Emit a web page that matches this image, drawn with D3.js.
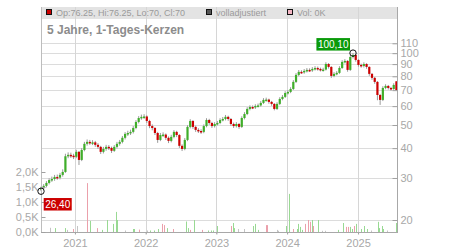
<!DOCTYPE html>
<html>
<head>
<meta charset="utf-8">
<script src="https://cdn.jsdelivr.net/npm/d3@7"></script>
<style>
body { margin: 0; background: #fff; }
text { font-family: "Liberation Sans", Arial, sans-serif; }
</style>
</head>
<body>
<script>
var width = 450, height = 250;
var plot = {left: 41, right: 397, top: 7, bottom: 232};

// two-week candles, first one starts on this day
var startDate = "2020-07-10";
var endDate = "2025-07-21";

var opens = [26.9,27.2,27.8,28.6,29.4,29.7,30.3,30.1,30.9,31.8,
  37.0,37.5,37.2,36.8,38.6,35.7,39.3,41.7,42.5,42.1,
  42.3,41.3,40.5,38.6,39.7,40.5,40.1,39.0,40.5,41.7,
  42.5,44.2,45.9,46.3,46.8,48.6,51.5,53.5,54.1,54.3,
  52.0,49.5,48.6,46.3,43.3,45.4,45.6,44.2,42.9,44.6,
  46.8,45.4,40.9,39.7,43.3,49.1,52.0,49.1,47.7,47.2,
  46.8,49.5,52.5,51.0,49.5,50.5,51.0,52.5,53.0,54.1,
  53.0,50.5,49.5,50.5,49.1,53.5,55.6,58.4,59.5,59.3,
  60.1,60.4,61.9,63.7,63.9,62.5,61.3,58.4,61.3,64.3,
  65.6,68.1,68.8,70.8,75.8,81.1,83.5,83.2,84.3,85.1,
  84.8,85.9,86.7,85.9,85.1,85.4,90.1,87.6,80.3,81.9,
  82.7,86.7,91.9,92.8,85.1,96.4,98.3,93.7,89.3,88.4,
  90.1,87.6,81.9,78.8,75.8,66.8,63.7,71.5,72.9,71.5,
  70.8,76.25];
var highs = [27.6,28.3,29.1,29.9,30.4,30.9,31.0,31.5,32.6,37.9,
  38.4,38.3,37.9,39.4,38.9,40.0,42.5,43.5,43.3,43.2,
  42.9,42.0,40.9,40.5,41.3,41.2,40.6,41.2,42.5,43.3,
  45.0,46.7,47.3,47.8,49.5,52.4,54.5,55.3,55.5,54.9,
  52.6,50.3,49.0,46.8,46.3,46.6,46.1,44.8,45.5,47.6,
  47.3,45.8,41.5,44.1,49.9,52.9,52.4,49.7,48.5,48.0,
  50.3,53.4,53.1,51.6,51.4,52.0,53.4,54.0,55.1,54.7,
  53.5,51.2,51.4,51.0,54.4,56.6,59.4,60.5,60.4,61.1,
  61.5,63.0,64.8,65.1,64.5,63.1,61.8,62.3,65.4,66.8,
  69.3,70.0,72.0,77.1,82.5,85.0,84.8,85.8,86.6,86.4,
  87.4,88.2,87.9,87.0,86.9,91.6,90.9,88.2,83.3,84.1,
  88.2,93.4,94.4,93.5,97.9,100.1,98.9,94.3,90.4,91.6,
  90.8,88.1,82.6,79.5,76.4,67.5,72.7,74.1,73.6,72.3,
  74.8,76.25];
var lows = [26.4,26.9,27.4,28.2,28.9,29.2,29.5,29.6,30.4,31.5,
  36.3,36.4,36.0,36.3,34.0,35.3,38.8,41.0,41.3,41.2,
  40.5,39.7,37.8,38.0,39.0,39.3,38.2,38.6,39.9,41.0,
  41.9,43.5,45.0,45.4,46.1,48.0,50.8,52.6,53.0,51.0,
  48.5,47.5,45.4,42.1,42.8,44.6,43.3,42.0,42.3,44.0,
  44.5,40.1,38.9,39.2,42.8,48.4,48.2,46.8,46.3,45.9,
  46.2,48.9,50.1,48.6,48.8,49.8,50.4,51.8,52.3,52.1,
  49.6,48.6,48.8,48.2,48.6,52.8,55.0,57.6,58.3,58.4,
  59.2,59.7,61.2,62.7,61.4,60.2,57.6,57.8,60.6,63.5,
  64.9,67.1,68.0,70.1,75.0,80.1,81.9,82.0,83.0,83.4,
  83.5,84.6,84.5,83.8,83.7,84.6,86.2,78.8,79.3,80.8,
  81.9,85.9,90.6,83.6,84.3,95.0,92.1,87.8,86.9,87.1,
  86.0,80.4,77.3,74.4,63.5,60.7,63.0,70.6,70.4,69.6,
  70.2,70.0];
var closes = [27.2,27.8,28.6,29.4,29.7,30.3,30.1,30.9,31.8,37.0,
  37.5,37.2,36.8,38.6,35.7,39.3,41.7,42.5,42.1,42.3,
  41.3,40.5,38.6,39.7,40.5,40.1,39.0,40.5,41.7,42.5,
  44.2,45.9,46.3,46.8,48.6,51.5,53.5,54.1,54.3,52.0,
  49.5,48.6,46.3,43.3,45.4,45.6,44.2,42.9,44.6,46.8,
  45.4,40.9,39.7,43.3,49.1,52.0,49.1,47.7,47.2,46.8,
  49.5,52.5,51.0,49.5,50.5,51.0,52.5,53.0,54.1,53.0,
  50.5,49.5,50.5,49.1,53.5,55.6,58.4,59.5,59.3,60.1,
  60.4,61.9,63.7,63.9,62.5,61.3,58.4,61.3,64.3,65.6,
  68.1,68.8,70.8,75.8,81.1,83.5,83.2,84.3,85.1,84.8,
  85.9,86.7,85.9,85.1,85.4,90.1,87.6,80.3,81.9,82.7,
  86.7,91.9,92.8,85.1,96.4,98.3,93.7,89.3,88.4,90.1,
  87.6,81.9,78.8,75.8,66.8,63.7,71.5,72.9,71.5,70.8,
  73.6,70.0];

// volume in thousands, u = up day, d = down day, n = unchanged
var volDates = ["2020-08-25","2020-09-20","2020-11-11","2020-11-21","2020-12-22","2021-01-12",
  "2021-03-04","2021-03-20","2021-04-25","2021-05-21","2021-06-16","2021-07-17","2021-08-01",
  "2021-08-06","2021-09-16","2021-10-28","2021-11-02","2021-11-28","2022-01-08","2022-01-23",
  "2022-02-13","2022-03-06","2022-03-26","2022-04-06","2022-04-21","2022-05-22","2022-07-28",
  "2022-08-08","2022-08-18","2022-09-07","2022-10-19","2022-11-19","2022-12-04","2022-12-15",
  "2023-01-04","2023-03-17","2023-03-28","2023-04-02","2023-04-23","2023-05-24","2023-07-09",
  "2023-07-19","2023-08-04","2023-09-14","2023-09-19","2023-11-10","2023-11-15","2023-12-26",
  "2024-01-11","2024-01-31","2024-02-21","2024-02-26","2024-03-07","2024-03-18","2024-04-02",
  "2024-04-18","2024-04-28","2024-05-08","2024-05-14","2024-06-08","2024-06-29","2024-07-14",
  "2024-09-18","2024-10-14","2024-10-30","2024-11-09","2024-11-19","2024-12-01","2024-12-11",
  "2024-12-21","2025-01-16","2025-02-01","2025-02-16","2025-03-09","2025-04-14","2025-04-19",
  "2025-05-05","2025-05-10","2025-05-30","2025-07-16"];
var volValues = [0.14,0.13,0.13,0.07,0.1,0.2,
  1.63,0.37,0.13,0.07,0.4,0.27,0.67,
  0.4,0.05,0.1,0.1,0.08,0.05,0.05,
  0.05,0.1,0.27,0.23,0.13,0.1,0.35,
  0.13,0.07,0.4,0.07,0.05,0.05,0.05,
  0.2,0.2,0.3,0.13,0.1,0.1,0.2,
  0.27,0.07,0.23,0.23,0.07,0.04,0.2,
  1.27,0.1,0.1,0.27,0.17,0.07,0.27,
  0.4,0.34,0.4,0.2,0.4,0.04,0.04,
  0.07,0.3,0.17,0.17,0.17,0.1,0.2,
  0.27,0.1,0.2,0.1,0.05,0.34,0.13,
  0.2,0.1,0.05,0.3];
var volDir = ["n","u","u","n","d","n",
  "d","u","d","u","u","u","u",
  "u","n","u","u","d","n","u",
  "u","u","d","d","u","d","u",
  "u","d","u","d","u","u","u",
  "u","d","u","u","n","n","u",
  "u","u","d","d","n","n","u",
  "u","d","u","u","u","u","d",
  "d","d","u","d","u","n","n",
  "u","u","d","d","u","u","d",
  "u","u","u","u","n","u","u",
  "u","u","n","u"];

var priceTicks = [20, 30, 40, 50, 60, 70, 80, 90, 100, 110];
var volTicks = [0, 0.5, 1, 1.5, 2];
var yearTicks = ["2021", "2022", "2023", "2024", "2025"];
var legendLabels = ["Op:76.25, Hi:76.25, Lo:70, Cl:70", "volladjustiert", "Vol: 0K"];
var legendColors = ["#cc0000", "#555555", "#f4b6c4"];
var title = "5 Jahre, 1-Tages-Kerzen";

var parse = d3.timeParse("%Y-%m-%d");
var t0 = parse(startDate);

var candles = closes.map(function(c, i) {
    return {date: d3.timeDay.offset(t0, 14 * i), o: opens[i], h: highs[i], l: lows[i], c: c};
});
var vols = volValues.map(function(v, i) {
    return {date: parse(volDates[i]), v: v, dir: volDir[i]};
});

var svg = d3.select("body")
    .append("svg")
        .attr("width", width)
        .attr("height", height);

var x = d3.scaleTime()
    .domain([t0, parse(endDate)])
    .range([plot.left, plot.right]);

var y = d3.scaleLog()
    .domain([20, 110])
    .range([220, 43.3]);

var yVol = d3.scaleLinear()
    .domain([0, 2])
    .range([plot.bottom, 172]);

// legend strip
svg.append("rect")
    .attr("x", plot.left)
    .attr("y", plot.top)
    .attr("width", plot.right - plot.left)
    .attr("height", 12)
    .attr("fill", "#e3e3e3");

// grid
svg.append("g")
    .selectAll("line")
    .data(priceTicks)
    .enter()
    .append("line")
        .attr("x1", plot.left)
        .attr("x2", plot.right)
        .attr("y1", function(d) { return Math.round(y(d)) + 0.5; })
        .attr("y2", function(d) { return Math.round(y(d)) + 0.5; })
        .attr("stroke", "#dcdcdc");

svg.append("g")
    .selectAll("line")
    .data(yearTicks)
    .enter()
    .append("line")
        .attr("x1", function(d) { return Math.round(x(parse(d + "-01-01"))) + 0.5; })
        .attr("x2", function(d) { return Math.round(x(parse(d + "-01-01"))) + 0.5; })
        .attr("y1", plot.top)
        .attr("y2", plot.bottom + 2)
        .attr("stroke", "#d6d6d6");

// volume
var volColor = {u: "#99d993", d: "#eba0ab", n: "#c4c4c4"};
svg.append("g")
    .selectAll("rect")
    .data(vols)
    .enter()
    .append("rect")
        .attr("x", function(d) { return Math.round(x(d.date)); })
        .attr("y", function(d) { return yVol(d.v); })
        .attr("width", 1)
        .attr("height", function(d) { return plot.bottom - yVol(d.v); })
        .attr("fill", function(d) { return volColor[d.dir]; });

// candles
var bw = 2.2;
var cg = svg.append("g");
cg.selectAll("line")
    .data(candles)
    .enter()
    .append("line")
        .attr("x1", function(d) { return x(d.date); })
        .attr("x2", function(d) { return x(d.date); })
        .attr("y1", function(d) { return y(d.h); })
        .attr("y2", function(d) { return y(d.l); })
        .attr("stroke", "#9a9a9a")
        .attr("stroke-width", 1);
cg.selectAll("rect")
    .data(candles)
    .enter()
    .append("rect")
        .attr("x", function(d) { return x(d.date) - bw / 2; })
        .attr("y", function(d) { return y(Math.max(d.o, d.c)); })
        .attr("width", bw)
        .attr("height", function(d) { return Math.max(1.5, Math.abs(y(d.o) - y(d.c))); })
        .attr("fill", function(d) { return d.c >= d.o ? "#3fae2a" : "#cc0000"; });

// frame lines
svg.append("line")
    .attr("x1", plot.left + 0.5).attr("x2", plot.left + 0.5)
    .attr("y1", plot.top).attr("y2", plot.bottom)
    .attr("stroke", "#bdbdbd");
svg.append("line")
    .attr("x1", plot.right + 0.5).attr("x2", plot.right + 0.5)
    .attr("y1", plot.top).attr("y2", plot.bottom + 1)
    .attr("stroke", "#a8a8a8");
svg.append("line")
    .attr("x1", plot.left).attr("x2", plot.right + 1)
    .attr("y1", plot.bottom + 0.5).attr("y2", plot.bottom + 0.5)
    .attr("stroke", "#a8a8a8");

// axes
function styleAxis(g) {
    g.select(".domain").remove();
    g.selectAll(".tick line").attr("stroke", "#a0a0a0");
    g.selectAll(".tick text")
        .attr("fill", "#a8a8a8")
        .style("font-size", "11px")
        .style("font-family", "'Liberation Sans', Arial, sans-serif");
}

svg.append("g")
    .attr("transform", "translate(" + (plot.right + 0.5) + ",0)")
    .call(d3.axisRight(y).tickValues(priceTicks).tickSize(-5).tickPadding(3).tickFormat(d3.format("d")))
    .call(styleAxis);

svg.append("g")
    .attr("transform", "translate(" + (plot.left + 0.5) + ",0)")
    .call(d3.axisLeft(yVol).tickValues(volTicks).tickSize(-4).tickPadding(3)
        .tickFormat(function(d) { return d.toFixed(1).replace(".", ",") + "K"; }))
    .call(styleAxis);

svg.append("g")
    .attr("transform", "translate(0," + (plot.bottom + 0.5) + ")")
    .call(d3.axisBottom(x).tickValues(yearTicks.map(function(d) { return parse(d + "-01-01"); }))
        .tickSize(2).tickPadding(5).tickFormat(d3.timeFormat("%Y")))
    .call(styleAxis);

// legend
var lx = [46.5, 206.5, 287.5];
legendLabels.forEach(function(t, i) {
    svg.append("rect")
        .attr("x", lx[i])
        .attr("y", 9.5)
        .attr("width", 5)
        .attr("height", 5)
        .attr("fill", legendColors[i])
        .attr("stroke", "#111");
    svg.append("text")
        .attr("x", lx[i] + 9.5)
        .attr("y", 16)
        .attr("fill", "#9a9a9a")
        .style("font-size", "9px")
        .text(t);
});

svg.append("text")
    .attr("x", 47)
    .attr("y", 34)
    .attr("fill", "#8c8c8c")
    .style("font-size", "12px")
    .style("font-weight", "bold")
    .text(title);

// high / low markers
var hi = candles[d3.maxIndex(candles, function(d) { return d.h; })];
var lo = candles[d3.minIndex(candles, function(d) { return d.l; })];
var fmt = function(v) { return v.toFixed(2).replace(".", ","); };

function marker(d, v, color, dx, dy, anchorRight) {
    var cx = x(d.date), cy = y(v);
    var g = svg.append("g");
    g.append("circle")
        .attr("cx", cx).attr("cy", cy).attr("r", 3.2)
        .attr("fill", "none").attr("stroke", "#111").attr("stroke-width", 1);
    var box = g.append("rect").attr("fill", color);
    var t = g.append("text")
        .style("font-size", "10px")
        .attr("fill", "#fff")
        .text(fmt(v));
    var w = t.node().getComputedTextLength() + 3;
    var bx = anchorRight ? cx + dx - w : cx + dx;
    var by = cy + dy;
    box.attr("x", bx).attr("y", by).attr("width", w).attr("height", 12.5);
    t.attr("x", bx + 1.5).attr("y", by + 10);
}
marker(hi, hi.h, "#0a9a0a", -3, -15, true);
marker(lo, lo.l, "#cc0000", 2.7, 6.8, false);
</script>
</body>
</html>
